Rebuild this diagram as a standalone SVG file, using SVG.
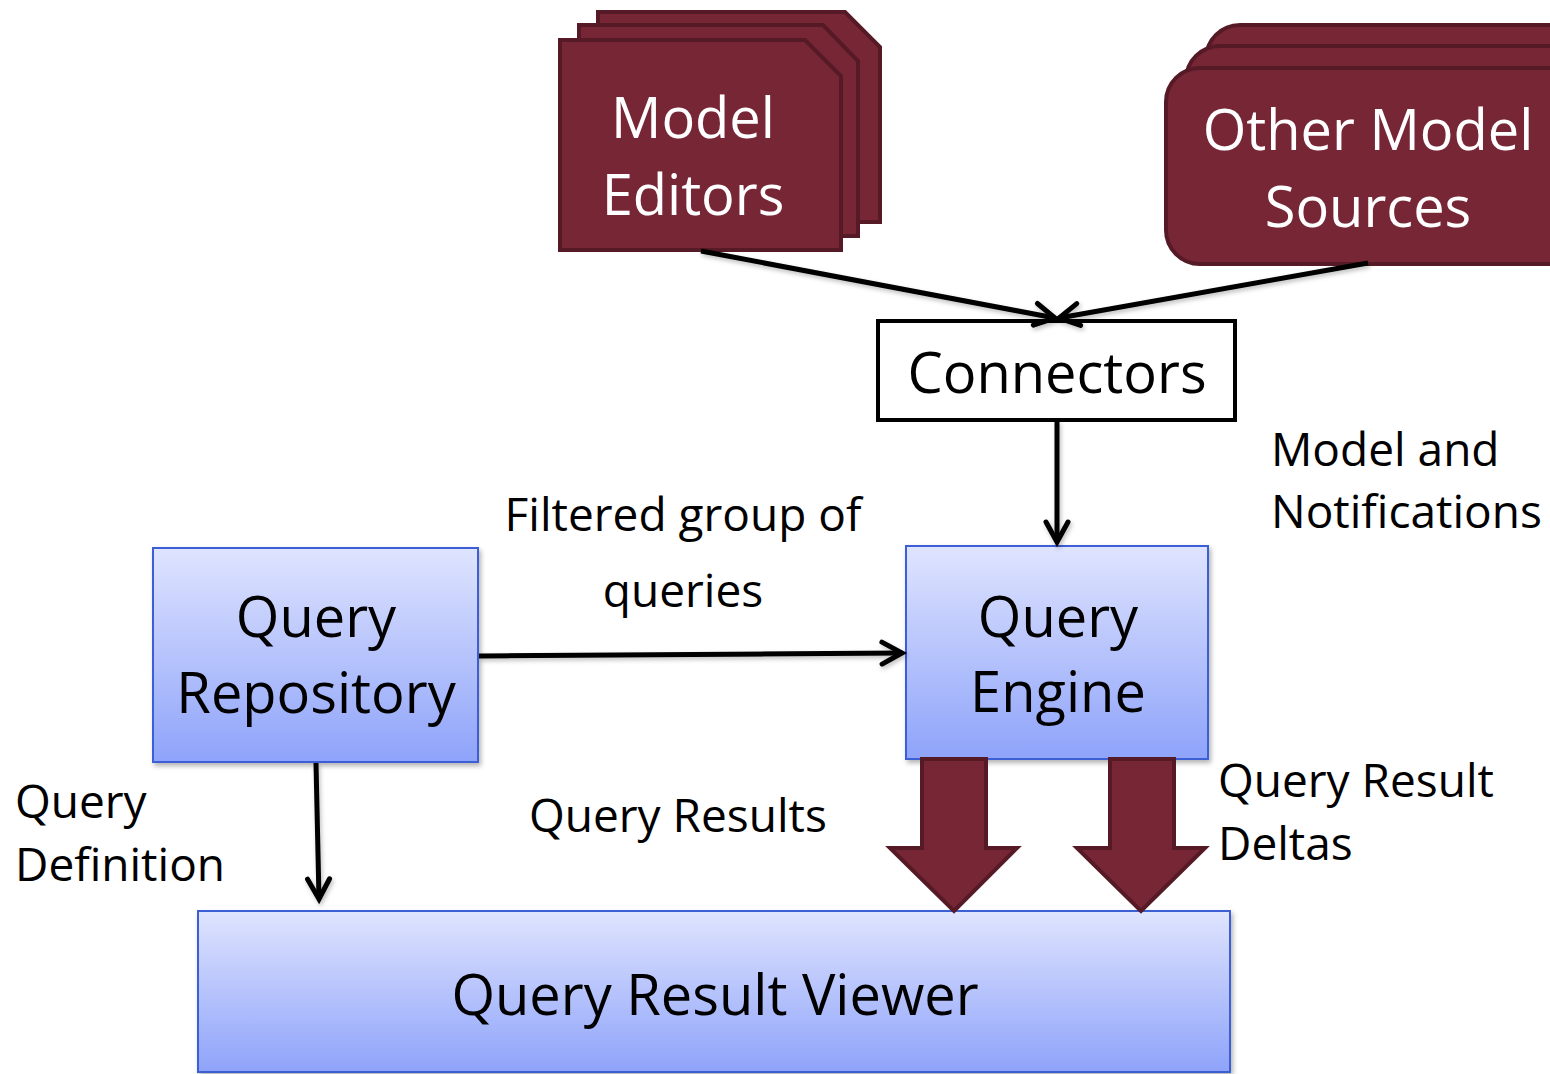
<svg xmlns="http://www.w3.org/2000/svg" width="1550" height="1074" viewBox="0 0 1550 1074">
  <defs>
    <linearGradient id="blueFill" x1="0" y1="0" x2="0" y2="1">
      <stop offset="0" stop-color="#dfe4fe"/>
      <stop offset="1" stop-color="#8ea3fa"/>
    </linearGradient>
    <filter id="soft" x="-10%" y="-10%" width="130%" height="130%">
      <feDropShadow dx="2" dy="3" stdDeviation="2.5" flood-color="#000" flood-opacity="0.3"/>
    </filter>
    <filter id="lineShadow" filterUnits="userSpaceOnUse" x="0" y="0" width="1550" height="1074">
      <feDropShadow dx="1.5" dy="2.5" stdDeviation="2" flood-color="#000" flood-opacity="0.25"/>
    </filter>
    <marker id="open" viewBox="-26 -16 32 32" markerWidth="32" markerHeight="32" refX="0" refY="0" orient="auto" markerUnits="userSpaceOnUse">
      <path d="M-20,-11 L0,0 L-20,11" fill="none" stroke="#000" stroke-width="5" stroke-linecap="round" stroke-linejoin="miter"/>
    </marker>
    <style>
      .lbl { font-family: "Open Sans", "Noto Sans", "Liberation Sans", sans-serif; font-size: 46px; fill: #000; }
      .big { font-family: "Open Sans", "Noto Sans", "Liberation Sans", sans-serif; font-size: 56px; text-anchor: middle; }
      .dark { fill: #fff; }
      .ink { fill: #000; }
      .maroon { fill: #772636; stroke: #561a26; stroke-width: 4; stroke-linejoin: miter; }
      .blue { fill: url(#blueFill); stroke: #3d5fd6; stroke-width: 2; filter: url(#soft); }
      .wire { fill: none; stroke: #000; stroke-width: 5; marker-end: url(#open); }
    </style>
  </defs>

  <rect width="1550" height="1074" fill="#fff"/>

  <!-- stacked editor cards -->
  <g id="model-editors">
    <path class="maroon" d="M598,12 H845 L880,47 V222 H598 Z"/>
    <path class="maroon" d="M579,25 H823 L858,61 V236 H579 Z"/>
    <path class="maroon" d="M560,40 H805 L841,76 V250 H560 Z"/>
    <text class="big dark" x="693" y="138">Model</text>
    <text class="big dark" x="693" y="215">Editors</text>
  </g>

  <!-- stacked rounded source cards, running off the right edge -->
  <g id="other-model-sources">
    <rect class="maroon" x="1206" y="25" width="420" height="190" rx="34"/>
    <rect class="maroon" x="1186" y="46" width="420" height="195" rx="34"/>
    <rect class="maroon" x="1166" y="68" width="420" height="196" rx="34"/>
    <text class="big dark" x="1368" y="150">Other Model</text>
    <text class="big dark" x="1368" y="227">Sources</text>
  </g>

  <g id="connectors">
    <rect x="878" y="321" width="357" height="99" fill="#fff" stroke="#000" stroke-width="4"/>
    <text class="big ink" x="1057" y="393">Connectors</text>
  </g>

  <g id="query-engine">
    <rect class="blue" x="906" y="546" width="302" height="213"/>
    <text class="big ink" x="1058" y="637">Query</text>
    <text class="big ink" x="1058" y="712">Engine</text>
  </g>

  <g id="query-repository">
    <rect class="blue" x="153" y="548" width="325" height="214"/>
    <text class="big ink" x="316" y="637">Query</text>
    <text class="big ink" x="316" y="713">Repository</text>
  </g>

  <g id="query-result-viewer">
    <rect class="blue" x="198" y="911" width="1032" height="161"/>
    <text class="big ink" x="715" y="1015">Query Result Viewer</text>
  </g>

  <!-- connectors between nodes -->
  <g id="edges">
    <g filter="url(#lineShadow)">
      <line class="wire" x1="701" y1="251" x2="1055" y2="318"/>
      <line class="wire" x1="1368" y1="263" x2="1059" y2="318"/>
      <line class="wire" x1="1057" y1="421" x2="1057" y2="542"/>
      <line class="wire" x1="479" y1="656" x2="902" y2="653"/>
      <line class="wire" x1="316" y1="763" x2="319" y2="899"/>
    </g>
    <!-- broad result arrows -->
    <path class="maroon" d="M922,759 H986 V848 H1017 L954,911 L890,848 H922 Z"/>
    <path class="maroon" d="M1110,759 H1174 V848 H1205 L1141,911 L1077,848 H1110 Z"/>
  </g>

  <g id="labels">
    <text class="lbl" x="1271" y="466">Model and</text>
    <text class="lbl" x="1271" y="528">Notifications</text>
    <text class="lbl" x="683" y="531" text-anchor="middle">Filtered group of</text>
    <text class="lbl" x="683" y="607" text-anchor="middle">queries</text>
    <text class="lbl" x="529" y="832">Query Results</text>
    <text class="lbl" x="1218" y="797">Query Result</text>
    <text class="lbl" x="1218" y="860">Deltas</text>
    <text class="lbl" x="15" y="818">Query</text>
    <text class="lbl" x="15" y="881">Definition</text>
  </g>
</svg>
